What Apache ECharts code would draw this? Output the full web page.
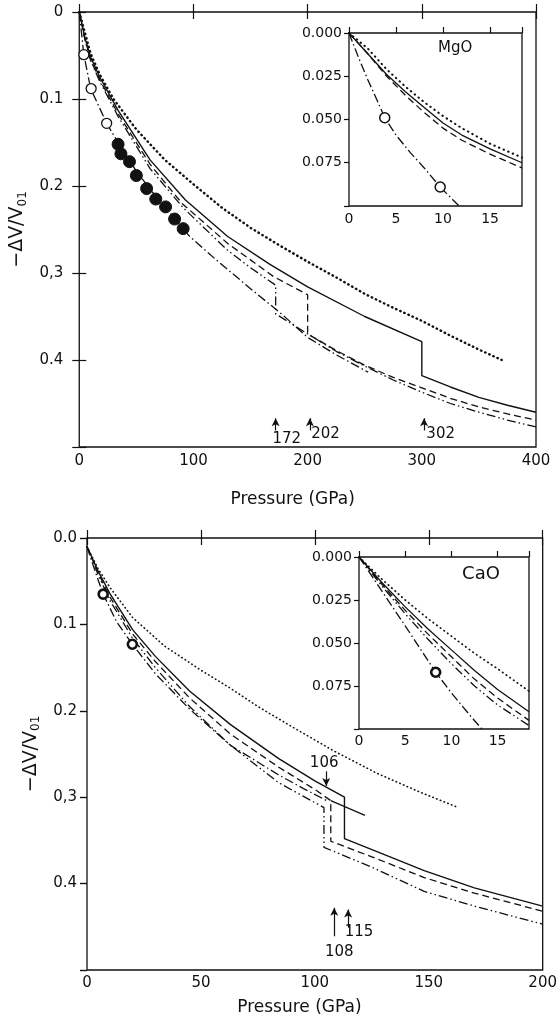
<!DOCTYPE html>
<html><head><meta charset="utf-8">
<script src="https://cdn.jsdelivr.net/npm/echarts@6/dist/echarts.min.js"></script>
<style>html,body{margin:0;padding:0;background:#fff}#c{width:560px;height:1019px}</style>
</head><body><div id="c"></div>
<script>
// ---------- MgO main panel (P in GPa, -dV/V0) ----------
const mgoSolid   = [[0,0],[5,0.030],[10,0.052],[18,0.075],[34,0.113],[62,0.170],[93,0.216],[130,0.258],[167,0.290],[200,0.316],[250,0.350],[300,0.379],[300,0.418],[325,0.431],[350,0.443],[375,0.452],[400,0.460]];
const mgoDashed  = [[0,0],[5,0.031],[10,0.055],[18,0.078],[34,0.117],[62,0.175],[90,0.220],[130,0.266],[170,0.304],[200,0.325],[200,0.370],[225,0.389],[250,0.406],[275,0.420],[300,0.432],[325,0.444],[350,0.454],[375,0.462],[400,0.469]];
const mgoDDD     = [[0,0],[5,0.032],[10,0.056],[18,0.080],[34,0.120],[62,0.180],[91,0.225],[130,0.274],[150,0.294],[172,0.314],[172,0.347],[200,0.370],[225,0.390],[250,0.407],[275,0.423],[300,0.437],[325,0.450],[350,0.460],[375,0.469],[400,0.477]];
const mgoDashDot = [[0,0],[4,0.049],[10,0.088],[24,0.128],[34,0.150],[50,0.183],[67,0.212],[84,0.238],[96,0.257],[120,0.285],[150,0.318],[178,0.348],[200,0.374],[225,0.394],[253,0.414]];
const mgoDotted  = [[0,0],[10,0.048],[18,0.072],[30,0.100],[50,0.135],[75,0.170],[100,0.198],[125,0.225],[150,0.248],[175,0.268],[200,0.287],[225,0.305],[250,0.324],[275,0.340],[300,0.355],[325,0.372],[350,0.388],[370,0.400]];
const mgoOpen    = [[4,0.049],[10.4,0.088],[24,0.128]];
const mgoFilled  = [[34,0.152],[36.5,0.163],[44,0.172],[50,0.188],[59,0.203],[67,0.215],[75.6,0.224],[83.5,0.238],[91,0.249]];
const mgoXTicks  = ['0','100','200','300','400'];
const mgoYTicks  = ['0','0.1','0.2','0,3','0.4',''];
const mgoArrows  = [172, 202, 302];
const mgoArrowLabels = [['172',181.7,0.491],['202',215.6,0.485],['302',316.5,0.485]];

// ---------- MgO inset ----------
const inMgSolid   = [[0,0],[2,0.012],[4,0.024],[6,0.034],[8,0.043],[10,0.052],[12,0.059],[15,0.067],[18.4,0.075]];
const inMgDashed  = [[0,0],[2,0.012],[4,0.025],[6,0.036],[8,0.046],[10,0.055],[12,0.062],[15,0.070],[18.4,0.078]];
const inMgDotted  = [[0,0],[2,0.009],[4,0.021],[6,0.031],[8,0.040],[10,0.048],[12,0.055],[15,0.064],[18.4,0.072]];
const inMgDashDot = [[0,0],[1,0.014],[2,0.027],[3,0.039],[3.8,0.049],[5,0.059],[6.5,0.069],[8,0.078],[9.7,0.089],[11.7,0.100]];
const inMgOpen    = [[3.8,0.049],[9.7,0.089]];
const insetXTicks = ['0','5','10','15'];
const insetYTicks = ['0.000','0.025','0.050','0.075',''];

// ---------- CaO main panel ----------
const caSolid   = [[0,0.010],[5,0.039],[10,0.064],[20,0.106],[30,0.137],[45,0.177],[63,0.216],[84,0.255],[100,0.281],[113,0.300],[113,0.348],[130,0.366],[148,0.385],[170,0.405],[200,0.426]];
const caExt     = [[107,0.304],[122,0.321]];
const caDashed  = [[0,0.010],[5,0.041],[10,0.068],[20,0.111],[30,0.143],[45,0.185],[63,0.227],[84,0.265],[100,0.291],[107,0.304],[107,0.351],[125,0.369],[148,0.393],[170,0.411],[200,0.432]];
const caDDD     = [[0,0.010],[5,0.043],[10,0.072],[20,0.116],[30,0.150],[45,0.195],[63,0.240],[84,0.283],[95,0.299],[104,0.312],[104,0.358],[125,0.381],[148,0.409],[170,0.426],[200,0.447]];
const caDashDot = [[0,0.010],[3.5,0.038],[7.1,0.065],[13,0.097],[19.9,0.123],[30,0.157],[45,0.198],[63,0.240],[84,0.274],[95,0.290],[106,0.305]];
const caDotted  = [[0,0.010],[5,0.036],[10,0.057],[20,0.092],[34,0.125],[50,0.153],[63,0.174],[75,0.195],[89,0.217],[108,0.246],[127,0.272],[146,0.294],[163,0.312]];
const caOpen    = [[7.1,0.065],[19.9,0.123]];
const caXTicks  = ['0','50','100','150','200'];
const caYTicks  = ['0.0','0.1','0.2','0,3','0.4',''];
const caArrowsUp = [[108.5,0.461,0.428],[114.6,0.451,0.430]];
const caArrowDown = [[105,0.270,0.287]];
const caArrowLabels = [['108',110.7,0.479],['115',119.4,0.456],['106',104.1,0.260]];

// ---------- CaO inset ----------
const inCaSolid   = [[0,0],[2.5,0.015],[5,0.029],[7.5,0.042],[10,0.054],[12.5,0.066],[15,0.077],[18.4,0.090]];
const inCaDashed  = [[0,0],[2.5,0.016],[5,0.031],[7.5,0.045],[10,0.058],[12.5,0.071],[15,0.082],[18.4,0.095]];
const inCaDDD     = [[0,0],[2.5,0.017],[5,0.033],[7.5,0.048],[10,0.062],[12.5,0.075],[15,0.086],[18.4,0.098]];
const inCaDashDot = [[0,0],[2.5,0.020],[5,0.040],[8.3,0.067],[10,0.079],[12,0.092],[13.3,0.100]];
const inCaDotted  = [[0,0],[2.5,0.013],[5,0.025],[7.5,0.036],[10,0.046],[12.5,0.056],[15,0.065],[18.4,0.078]];
const inCaOpen    = [[8.3,0.067]];

// ---------- styling ----------
const INK = '#111';
const FONT = 'DejaVu Sans';
const DASH = [7,4], DASHDOT = [9,3,1.5,3], DDDOT = [9,3,1.5,3,1.5,3];

function ln(data, xi, yi, type, width, cap) {
  return {type:'line', xAxisIndex:xi, yAxisIndex:yi, data:data, symbol:'none', showSymbol:false,
    animation:false, silent:true, z:3,
    lineStyle:{color:INK, width:width||1.3, type:type||'solid', cap:cap||'butt', opacity:1}};
}
function dots(data, xi, yi, size, filled, bw) {
  return {type:'scatter', xAxisIndex:xi, yAxisIndex:yi, data:data, symbol:'circle', symbolSize:size,
    animation:false, silent:true, z:5,
    itemStyle:{color: filled ? INK : '#fff', borderColor:INK, borderWidth: bw||1.3, opacity:1}};
}
function texts(items, xi, yi, size) {
  return {type:'scatter', xAxisIndex:xi, yAxisIndex:yi, symbolSize:0, animation:false, silent:true, z:6,
    itemStyle:{opacity:1},
    data: items.map(t => ({value:[t[1],t[2]], label:{show:true, position:'inside', formatter:t[0],
      color:INK, opacity:1, fontFamily:FONT, fontSize:size}}))};
}
function arrows(list, xi, yi) {
  return {type:'line', xAxisIndex:xi, yAxisIndex:yi, data:[], animation:false, silent:true,
    markLine:{silent:true, animation:false, symbol:['none','arrow'], symbolSize:[6,8],
      label:{show:false}, lineStyle:{type:'solid', color:INK, width:1.2, opacity:1},
      data: list.map(a => [{coord:[a[0],a[1]]},{coord:[a[0],a[2]]}])}};
}
function grid(l,t,w,h){return {left:l, top:t, width:w, height:h, show:true, borderColor:INK, borderWidth:1.3, backgroundColor:'#fff'};}
const tick = (inside,len) => ({show:true, inside:inside, length:len, lineStyle:{color:INK, width:1.2}});
const lbl = (size, margin, labels, step) => ({show:true, margin:margin, color:INK, fontFamily:FONT, fontSize:size,
  formatter: v => { const i = Math.round(v/step); return Math.abs(v - i*step) < 1e-6 && labels[i] !== undefined ? labels[i] : ''; }});
const noLbl = {show:false};
const base = {type:'value', axisLine:{show:false}, splitLine:{show:false}};
const axisName = (size) => ({color:INK, fontFamily:FONT, fontSize:size});
const yName = {color:INK, fontFamily:FONT,
  rich:{a:{fontSize:19, fontFamily:FONT, color:INK}, s:{fontSize:12, fontFamily:FONT, color:INK, verticalAlign:'bottom', padding:[10,0,0,0]}}};

const option = {
  backgroundColor:'#fff',
  animation:false,
  grid:[ grid(76,12,460,435), grid(349,33,173,173), grid(87,538,460,432), grid(359,557,170,172) ],
  xAxis:[
    Object.assign({}, base, {gridIndex:0, position:'bottom', min:0, max:400, interval:100, axisTick:tick(true,8),
      axisLabel:lbl(15,7,mgoXTicks,100), name:'Pressure (GPa)', nameLocation:'middle', nameGap:44,
      nameTextStyle:Object.assign(axisName(17),{padding:[0,30,0,0]})}),
    Object.assign({}, base, {gridIndex:0, position:'top', min:0, max:400, interval:100, axisTick:tick(true,7), axisLabel:noLbl}),
    Object.assign({}, base, {gridIndex:1, position:'bottom', min:0, max:18.4, interval:5, axisTick:tick(true,6),
      axisLabel:lbl(14,6,insetXTicks,5)}),
    Object.assign({}, base, {gridIndex:2, position:'bottom', min:0, max:200, interval:50, axisTick:tick(true,8),
      axisLabel:lbl(15,6,caXTicks,50), name:'Pressure (GPa)', nameLocation:'middle', nameGap:29,
      nameTextStyle:Object.assign(axisName(17),{padding:[0,31,0,0]})}),
    Object.assign({}, base, {gridIndex:2, position:'top', min:0, max:200, interval:50, axisTick:tick(true,7), axisLabel:noLbl}),
    Object.assign({}, base, {gridIndex:3, position:'bottom', min:0, max:18.4, interval:5, axisTick:tick(true,6),
      axisLabel:lbl(14,5,insetXTicks,5)})
  ],
  yAxis:[
    Object.assign({}, base, {gridIndex:0, position:'left', inverse:true, min:0, max:0.5, interval:0.1, axisTick:tick(true,7),
      axisLabel:lbl(15,16,mgoYTicks,0.1), name:'{a|−ΔV/V}{s|01}', nameLocation:'middle', nameRotate:90, nameGap:38, nameTextStyle:yName}),
    Object.assign({}, base, {gridIndex:0, position:'right', inverse:true, min:0, max:0.5, interval:0.1, axisTick:tick(true,7), axisLabel:noLbl}),
    Object.assign({}, base, {gridIndex:1, position:'left', inverse:true, min:0, max:0.1, interval:0.025, axisTick:tick(false,5),
      axisLabel:lbl(14,7,insetYTicks,0.025)}),
    Object.assign({}, base, {gridIndex:2, position:'left', inverse:true, min:0, max:0.5, interval:0.1, axisTick:tick(false,7),
      axisLabel:lbl(15,10,caYTicks,0.1), name:'{a|−ΔV/V}{s|01}', nameLocation:'middle', nameRotate:90, nameGap:38, nameTextStyle:yName}),
    Object.assign({}, base, {gridIndex:2, position:'right', inverse:true, min:0, max:0.5, interval:0.1, axisTick:tick(true,7), axisLabel:noLbl}),
    Object.assign({}, base, {gridIndex:3, position:'left', inverse:true, min:0, max:0.1, interval:0.025, axisTick:tick(false,5),
      axisLabel:lbl(14,7,insetYTicks,0.025)})
  ],
  series:[
    // MgO main
    ln(mgoSolid,0,0,'solid',1.4),
    ln(mgoDashed,0,0,DASH,1.3),
    ln(mgoDDD,0,0,DDDOT,1.3),
    ln(mgoDashDot,0,0,DASHDOT,1.3),
    ln(mgoDotted,0,0,[0.5,4],2.4,'round'),
    dots(mgoOpen,0,0,10,false,1.3),
    dots(mgoFilled,0,0,12,true,1),
    arrows(mgoArrows.map(p => [p,0.481,0.467]),0,0),
    texts(mgoArrowLabels,0,0,15),
    // MgO inset
    ln(inMgSolid,2,2,'solid',1.3),
    ln(inMgDashed,2,2,DASH,1.3),
    ln(inMgDotted,2,2,[0.5,4.5],2,'round'),
    ln(inMgDashDot,2,2,DASHDOT,1.3),
    dots(inMgOpen,2,2,10,false,1.5),
    texts([['MgO',11.3,0.0085]],2,2,15),
    // CaO main
    ln(caSolid,3,3,'solid',1.4),
    ln(caExt,3,3,'solid',1.3),
    ln(caDashed,3,3,DASH,1.3),
    ln(caDDD,3,3,DDDOT,1.3),
    ln(caDashDot,3,3,DASHDOT,1.3),
    ln(caDotted,3,3,[0.5,3.5],1.6,'round'),
    dots(caOpen,3,3,9,false,2.6),
    arrows(caArrowsUp.concat(caArrowDown),3,3),
    texts(caArrowLabels,3,3,15),
    // CaO inset
    ln(inCaSolid,5,5,'solid',1.3),
    ln(inCaDashed,5,5,DASH,1.3),
    ln(inCaDDD,5,5,DDDOT,1.3),
    ln(inCaDashDot,5,5,DASHDOT,1.3),
    ln(inCaDotted,5,5,[0.5,4],1.7,'round'),
    dots(inCaOpen,5,5,9,false,2.6),
    texts([['CaO',13.2,0.0099]],5,5,18)
  ]
};
const chart = echarts.init(document.getElementById('c'));
chart.setOption(option);
</script>
</body></html>
